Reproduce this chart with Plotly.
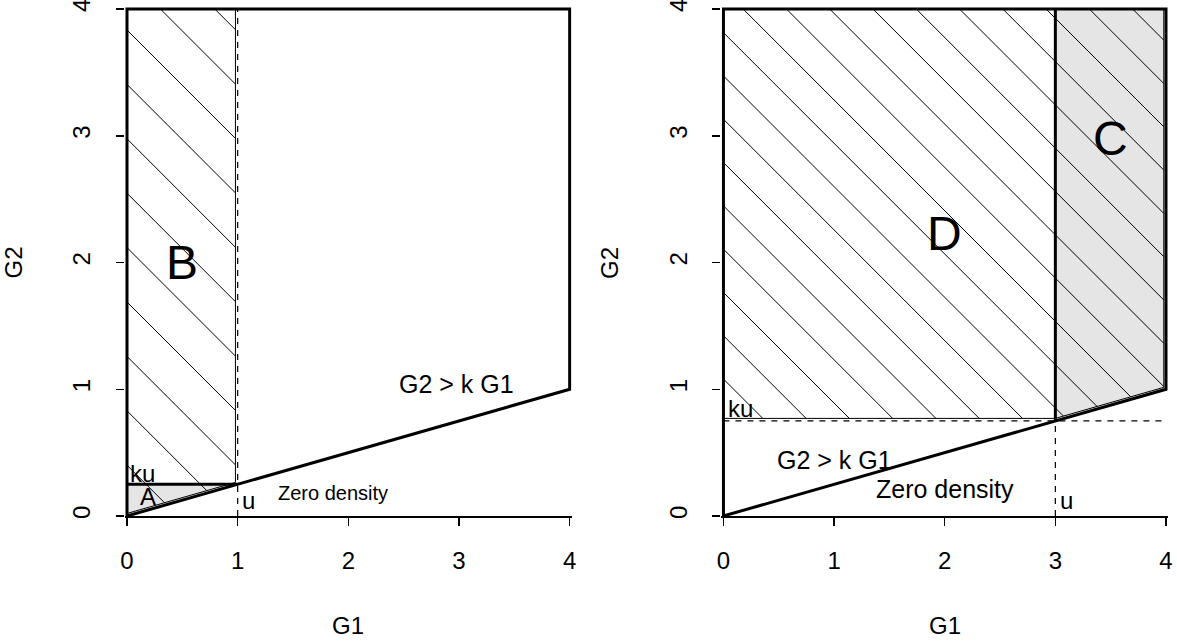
import math
import plotly.graph_objects as go

# ---------------- data ----------------
K = 0.25                 # slope of the boundary G2 = k G1
U_LEFT = 1.0             # threshold u in the left panel
U_RIGHT = 3.0            # threshold u in the right panel
AX_MIN, AX_MAX = 0.0, 4.0
TICKS = [0, 1, 2, 3, 4]
TICK_TEXT = ["0", "1", "2", "3", "4"]
X_TITLE = "G1"
Y_TITLE = "G2"

LEFT_TEXT = ["B", "A", "ku", "u", "Zero density", "G2 > k G1"]
LEFT_X = [0.5, 0.19, 0.14, 1.10, 1.86, 2.98]
LEFT_Y = [2.0, 0.15, 0.335, 0.125, 0.18, 1.04]
LEFT_SIZE = [48, 24, 24, 24, 20, 25]

RIGHT_TEXT = ["D", "C", "ku", "u", "Zero density", "G2 > k G1"]
RIGHT_X = [2.0, 3.5, 0.15, 3.105, 2.0, 1.0]
RIGHT_Y = [2.23, 2.98, 0.85, 0.125, 0.213, 0.444]
RIGHT_SIZE = [48, 48, 24, 24, 25, 25]

# ---------------- layout geometry (page pixels) ----------------
W, H = 1177, 644
# where data 0 and data 4 fall
L_P0, L_P4 = 126.7, 569.5
R_P0, R_P4 = 723.3, 1166.0
Y_P4, Y_P0 = 9.0, 516.0
PAD = 2.0
ML = L_P0 - PAD
MR = W - (R_P4 + PAD)
MT = Y_P4 - PAD
MB = H - Y_P0
PW, PH = W - ML - MR, H - MT - MB
L_A, L_B = ML, L_P4 + PAD
R_A, R_B = R_P0 - PAD, W - MR
DOM_L = [(L_A - ML) / PW, (L_B - ML) / PW]
DOM_R = [(R_A - ML) / PW, (R_B - ML) / PW]


def rng(a, b, p0, p4):
    s = (p4 - p0) / (AX_MAX - AX_MIN)
    return [AX_MIN + (a - p0) / s, AX_MIN + (b - p0) / s]


SX = (L_P4 - L_P0) / (AX_MAX - AX_MIN)
SY = (Y_P0 - Y_P4) / (AX_MAX - AX_MIN)
YRANGE = [AX_MIN, AX_MIN + (Y_P0 - MT) / SY]

EPS = 0.02               # small inset of the hatched polygons' borders
GRAY = "#E5E5E5"
FONT = "Liberation Sans, Arial, Helvetica, sans-serif"


def hatch(poly, c0, step):
    """Clip the family of lines SX*x + SY*y = c0 + n*step (45 deg on screen)
    to a convex polygon."""
    g = [SX * x + SY * y for x, y in poly]
    n0 = math.ceil((min(g) - c0) / step)
    n1 = math.floor((max(g) - c0) / step)
    xs, ys = [], []
    m = len(poly)
    for n in range(n0, n1 + 1):
        c = c0 + n * step
        pts = []
        for i in range(m):
            (x1, y1), (x2, y2) = poly[i], poly[(i + 1) % m]
            g1, g2 = g[i], g[(i + 1) % m]
            if g1 == g2:
                continue
            t = (c - g1) / (g2 - g1)
            if 0 <= t <= 1:
                pts.append((x1 + t * (x2 - x1), y1 + t * (y2 - y1)))
        if len(pts) >= 2:
            pts.sort(key=lambda p: SY * p[0] - SX * p[1])
            a, b = pts[0], pts[-1]
            xs += [a[0], b[0], None]
            ys += [a[1], b[1], None]
    return xs, ys


def line(fig, xs, ys, xr, yr, width=1.0, dash="solid"):
    fig.add_trace(go.Scatter(
        x=xs, y=ys, mode="lines", xaxis=xr, yaxis=yr,
        line=dict(color="black", width=width, dash=dash),
        hoverinfo="skip", showlegend=False))


def gray(fig, xs, ys, xr, yr):
    fig.add_trace(go.Scatter(x=xs, y=ys, mode="lines", fill="toself",
                             fillcolor=GRAY, line=dict(width=0),
                             xaxis=xr, yaxis=yr, hoverinfo="skip", showlegend=False))


fig = go.Figure()

# region G2 > k G1 (thick boundary)
region_x = [AX_MIN, AX_MAX, AX_MAX, AX_MIN, AX_MIN]
region_y = [AX_MIN, K * AX_MAX, AX_MAX, AX_MAX, AX_MIN]
DASH = "6px,6px"

# ===== left panel =====
u, ku = U_LEFT, K * U_LEFT
gray(fig, [0, u, 0, 0], [0, ku, ku, 0], "x", "y")                       # A
polyL = [(0, EPS), (u - EPS, K * (u - EPS) + EPS), (u - EPS, AX_MAX), (0, AX_MAX)]
hx, hy = hatch(polyL, 486.0, 54.4)                                       # B (+A)
line(fig, hx, hy, "x", "y", width=1)
line(fig, [p[0] for p in polyL] + [polyL[0][0]], [p[1] for p in polyL] + [polyL[0][1]],
     "x", "y", width=1)
line(fig, [u, u], [AX_MIN, AX_MAX], "x", "y", width=1.2, dash=DASH)
line(fig, [0, u], [ku, ku], "x", "y", width=3)
line(fig, region_x, region_y, "x", "y", width=3)

# ===== right panel =====
u, ku = U_RIGHT, K * U_RIGHT
gray(fig, [u, AX_MAX, AX_MAX, u, u], [ku, K * AX_MAX, AX_MAX, AX_MAX, ku], "x2", "y2")  # C
polyR = [(0, ku + EPS), (u, ku + EPS), (AX_MAX - EPS, K * (AX_MAX - EPS) + EPS),
         (AX_MAX - EPS, AX_MAX), (0, AX_MAX)]
hx, hy = hatch(polyR, 526.7, 43.3)                                       # D + C
line(fig, hx, hy, "x2", "y2", width=1)
polyD = [(0, ku + EPS), (u, ku + EPS), (u, AX_MAX), (0, AX_MAX), (0, ku + EPS)]
line(fig, [p[0] for p in polyD], [p[1] for p in polyD], "x2", "y2", width=1)
polyC = [(u, ku + EPS), (AX_MAX - EPS, K * (AX_MAX - EPS) + EPS), (AX_MAX - EPS, AX_MAX)]
line(fig, [p[0] for p in polyC], [p[1] for p in polyC], "x2", "y2", width=1)
line(fig, [AX_MIN, AX_MAX], [ku, ku], "x2", "y2", width=1.2, dash=DASH)
line(fig, [u, u], [AX_MIN, ku], "x2", "y2", width=1.2, dash=DASH)
line(fig, [u, u], [ku, AX_MAX], "x2", "y2", width=3)
line(fig, region_x, region_y, "x2", "y2", width=3)

# ===== annotations =====
ann = []
for txts, xs, ys, sizes, xr, yr in [(LEFT_TEXT, LEFT_X, LEFT_Y, LEFT_SIZE, "x", "y"),
                                    (RIGHT_TEXT, RIGHT_X, RIGHT_Y, RIGHT_SIZE, "x2", "y2")]:
    for t, x, y, s in zip(txts, xs, ys, sizes):
        ann.append(dict(text=t, x=x, y=y, xref=xr, yref=yr, showarrow=False,
                        xanchor="center", yanchor="middle",
                        font=dict(size=s, color="black", family=FONT)))

tfont = dict(size=24, color="black", family=FONT)


def paper_x(px):
    return (px - ML) / PW


def paper_y(py):
    return 1 - (py - MT) / PH


# axis titles (placed like R's mtext lines)
for cx in [(L_P0 + L_P4) / 2, (R_P0 + R_P4) / 2]:
    ann.append(dict(text=X_TITLE, x=paper_x(cx), y=paper_y(625), xref="paper", yref="paper",
                    showarrow=False, xanchor="center", yanchor="middle", font=tfont))
for gx in [L_P0 - 114, R_P0 - 114]:
    ann.append(dict(text=Y_TITLE, x=paper_x(gx), y=paper_y((Y_P0 + Y_P4) / 2),
                    xref="paper", yref="paper", textangle=-90,
                    showarrow=False, xanchor="center", yanchor="middle", font=tfont))

axis_common = dict(showgrid=False, zeroline=False,
                   ticks="outside", ticklen=8, tickwidth=1.5, tickcolor="black",
                   tickvals=TICKS, ticktext=TICK_TEXT, tickfont=tfont,
                   ticklabeloverflow="allow", fixedrange=True)
xcommon = dict(axis_common, showline=True, linecolor="black", linewidth=2,
               ticklabelstandoff=14)
ycommon = dict(axis_common, showline=False, tickangle=-90, ticklabelstandoff=16,
               range=YRANGE, domain=[0, 1])

fig.update_layout(
    width=W, height=H,
    margin=dict(l=ML, r=MR, t=MT, b=MB, autoexpand=False),
    paper_bgcolor="white", plot_bgcolor="white",
    showlegend=False,
    xaxis=dict(xcommon, domain=DOM_L, anchor="y", range=rng(L_A, L_B, L_P0, L_P4)),
    yaxis=dict(ycommon, anchor="x"),
    xaxis2=dict(xcommon, domain=DOM_R, anchor="y2", range=rng(R_A, R_B, R_P0, R_P4)),
    yaxis2=dict(ycommon, anchor="x2"),
    annotations=ann,
)

fig.write_html("out.html", config={"displayModeBar": False, "staticPlot": True},
               post_script="document.body.style.margin='0';document.body.style.overflow='hidden';")
